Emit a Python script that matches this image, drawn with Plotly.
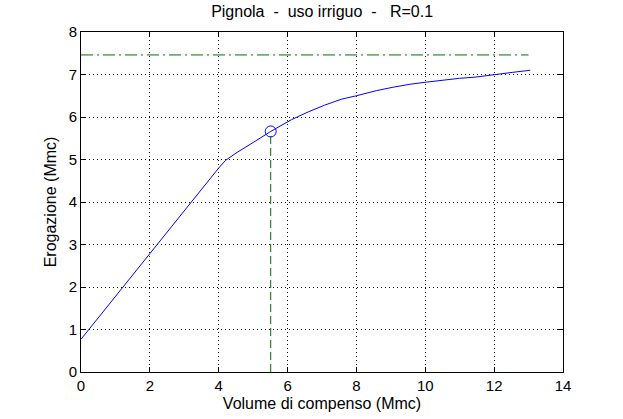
import plotly.graph_objects as go

# Curve: Volume di compenso (Mmc) vs Erogazione (Mmc)
volume = [0.0, 1.0, 2.0, 3.0, 4.0, 4.2, 4.5, 5.0, 5.51, 6.12, 6.6, 7.08, 7.57, 8.0,
          8.58, 9.06, 9.55, 10.03, 10.5, 10.99, 11.47, 12.0, 12.53, 13.05]
erogazione = [0.77, 1.78, 2.78, 3.78, 4.8, 4.98, 5.15, 5.4, 5.66, 5.94, 6.12, 6.28, 6.42, 6.5,
              6.62, 6.7, 6.77, 6.82, 6.87, 6.91, 6.94, 7.0, 7.05, 7.1]

# Reference values
ref_level = 7.46
ref_xrange = [0, 13]
point_x = 5.51
point_y = 5.66

xticks = [0, 2, 4, 6, 8, 10, 12, 14]
yticks = [0, 1, 2, 3, 4, 5, 6, 7, 8]

blue = "#0000ff"
green = "#007000"

fig = go.Figure()
fig.add_trace(go.Scatter(x=volume, y=erogazione, mode="lines",
                         line=dict(color=blue, width=1), showlegend=False))
fig.add_trace(go.Scatter(x=ref_xrange, y=[ref_level, ref_level], mode="lines",
                         line=dict(color=green, width=1, dash="12px,4px,2px,4px"), showlegend=False))
fig.add_trace(go.Scatter(x=[point_x, point_x], y=[0, point_y], mode="lines",
                         line=dict(color=green, width=1, dash="8px,4px"), showlegend=False))
fig.add_trace(go.Scatter(x=[point_x], y=[point_y], mode="markers",
                         marker=dict(symbol="circle-open", size=11, color=blue,
                                     line=dict(width=1, color=blue)),
                         showlegend=False))

font = "Liberation Sans, Arial, sans-serif"
axis_common = dict(showline=True, linecolor="black", linewidth=1, mirror="ticks",
                   ticks="inside", ticklen=5, tickcolor="black",
                   showgrid=True, gridcolor="black", griddash="1px,3px", gridwidth=1,
                   zeroline=False, automargin=False,
                   tickfont=dict(size=15, color="black", family=font))

fig.update_layout(
    width=623, height=419,
    margin=dict(l=81, r=60, t=32, b=47),
    paper_bgcolor="white", plot_bgcolor="white",
    title=dict(text="Pignola  -  uso irriguo  -   R=0.1", x=0.517, xanchor="center",
               y=0.972, yanchor="middle", font=dict(size=16, color="black", family=font)),
    xaxis=dict(range=[0, 14], tickvals=xticks,
               title=dict(text="Volume di compenso (Mmc)", standoff=4,
                          font=dict(size=16, color="black", family=font)),
               **axis_common),
    yaxis=dict(range=[0, 8], tickvals=yticks,
               title=dict(text="Erogazione (Mmc)", standoff=8,
                          font=dict(size=16, color="black", family=font)),
               **axis_common),
)

fig.write_html("out.html", config={"displayModeBar": False},
               post_script="document.body.style.margin='0';")
